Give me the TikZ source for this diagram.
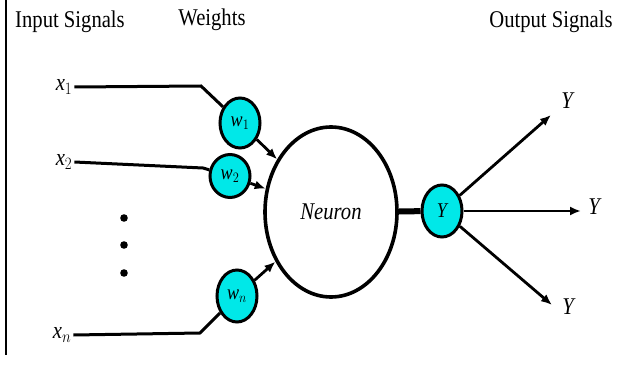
\documentclass[tikz,border=0pt]{standalone}
\usepackage{fontspec}
\setmainfont{Liberation Serif}
\usetikzlibrary{shapes.geometric, arrows.meta}
\definecolor{wcyan}{RGB}{0,232,232}
\newcommand{\narrow}[1]{\scalebox{0.86}[1]{#1}}

\begin{document}
\begin{tikzpicture}[x=1pt,y=-1pt,
    bigtxt/.style={font=\fontsize{24}{26}\selectfont},
    itxt/.style={font=\fontsize{24}{26}\selectfont\itshape},
    wnode/.style={ellipse, draw, line width=3pt, fill=wcyan, minimum width=40pt,
      minimum height=50pt, inner sep=0pt, font=\fontsize{21}{22}\selectfont\itshape},
    sig/.style={line width=3pt},
    arr/.style={line width=2.8pt, -{Latex[length=11pt,width=9pt]}}]
    \useasboundingbox (0,0) rectangle (618,366);

    % left border line
    \draw[line width=1.2pt] (6,0) -- (6,355);

    % headings
    \node[bigtxt] (hin) at (70,22) {\narrow{Input Signals}};
    \node[bigtxt] (hw) at (212,20) {\narrow{Weights}};
    \node[bigtxt] (hout) at (551,22) {\narrow{Output Signals}};

    % inputs
    \node[bigtxt, inner sep=2pt] (x1) at (64,87) {\narrow{\textit{x}$_1$}};
    \node[bigtxt, inner sep=2pt] (x2) at (64,162) {\narrow{\textit{x}$_2$}};
    \node[bigtxt, inner sep=2pt] (xn) at (62,335) {\narrow{\textit{x}$_n$}};

    % dots
    \foreach \yy in {218,245,273}
        \fill (124,\yy) circle (3.8pt);

    % weights
    \node[wnode] (w1) at (240,123) {\narrow{\textit{w}$_1$}};
    \node[wnode, minimum height=43pt] (w2) at (230,176) {\narrow{\textit{w}$_2$}};
    \node[wnode, minimum height=52pt] (wn) at (237,296) {\narrow{\textit{w}$_n$}};

    % neuron and output
    \node[ellipse, draw, line width=3.6pt, minimum width=132pt, minimum height=170pt,
      itxt] (n) at (331,212) {\narrow{Neuron}};
    \node[wnode, minimum height=52pt] (y) at (442,211) {\narrow{Y}};

    % bends of the input lines
    \coordinate (b1) at (201,86);
    \coordinate (b2) at (203,168);
    \coordinate (bn) at (200,333);

    \draw[sig] (x1.east) -- (b1) -- (w1);
    \draw[sig] (x2.east) -- (b2) -- (w2);
    \draw[sig] (xn.east) -- (bn) -- (wn);

    % weights into neuron
    \draw[arr] (w1) -- (n);
    \draw[arr] (w2) -- (n);
    \draw[arr] (wn) -- (n);

    % neuron to output
    \draw[line width=6pt] (n) -- (y);

    % output signals
    \coordinate (o1) at (551,115);
    \coordinate (o2) at (581,211);
    \coordinate (o3) at (552,305);
    \draw[arr] (y) -- (o1);
    \draw[arr] (y) -- (o2);
    \draw[arr] (y) -- (o3);
    \node[itxt] (l1) at (567,101) {\narrow{Y}};
    \node[itxt] (l2) at (594,207) {\narrow{Y}};
    \node[itxt] (l3) at (568,307) {\narrow{Y}};
\end{tikzpicture}
\end{document}
